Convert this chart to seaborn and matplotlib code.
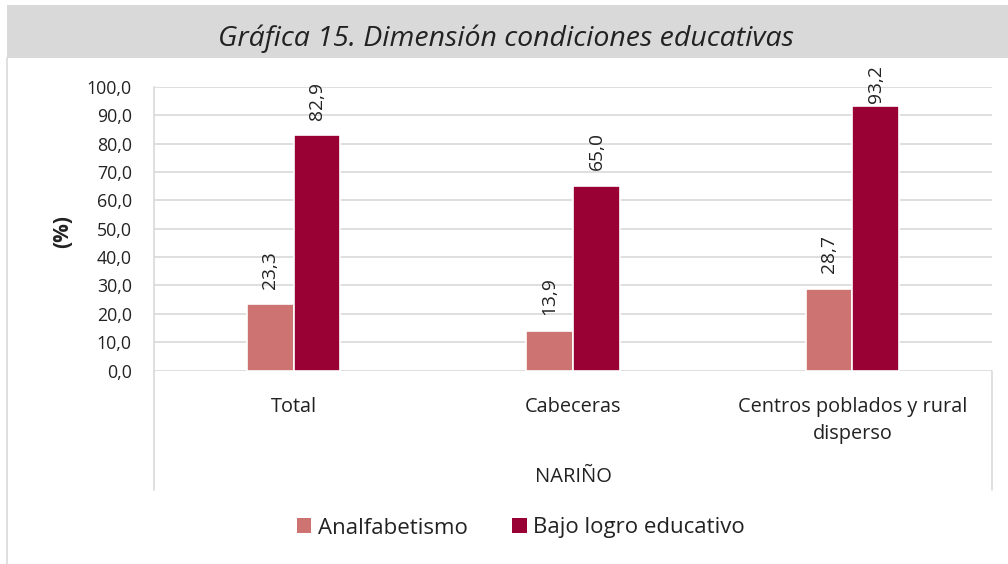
import matplotlib
matplotlib.use("Agg")
import matplotlib.pyplot as plt
import seaborn as sns
import pandas as pd
from matplotlib.patches import Rectangle
from matplotlib.lines import Line2D

# Data
categories = ["Total", "Cabeceras", "Centros poblados y rural\ndisperso"]
series_names = ["Analfabetismo", "Bajo logro educativo"]
analfabetismo = [23.3, 13.9, 28.7]
bajo_logro = [82.9, 65.0, 93.2]
y_ticks = [0, 10, 20, 30, 40, 50, 60, 70, 80, 90, 100]
title = "Gráfica 15. Dimensión condiciones educativas"
group_label = "NARIÑO"
y_label = "(%)"

colors = ["#CD7371", "#990033"]
grid_color = "#D9D9D9"
text_color = "#222222"

df = pd.DataFrame({
    "categoria": categories * 2,
    "serie": [series_names[0]] * 3 + [series_names[1]] * 3,
    "valor": analfabetismo + bajo_logro,
})

sns.set_theme(style="white")
plt.rcParams["font.family"] = ["Open Sans", "DejaVu Sans"]

fig = plt.figure(figsize=(10.08, 5.64), dpi=100)

# Title band
fig.patches.append(Rectangle((7 / 1008, 1 - 58 / 564), 1 - 7 / 1008, 53 / 564,
                             transform=fig.transFigure, facecolor=grid_color,
                             edgecolor="none", zorder=0))
fig.lines.append(Line2D([7 / 1008, 7 / 1008], [0, 1 - 58 / 564],
                        transform=fig.transFigure, color=grid_color, lw=1.2))
fig.text(506 / 1008, 1 - 39 / 564, title, ha="center", va="center",
         fontsize=20.5, style="italic", color=text_color)

ax = fig.add_axes([154 / 1008, (564 - 370.5) / 564, (992 - 154) / 1008, 283.5 / 564])

sns.barplot(data=df, x="categoria", y="valor", hue="serie", order=categories,
            hue_order=series_names, palette=colors, width=0.335, dodge=True,
            edgecolor="white", linewidth=1.2, saturation=1, ax=ax, legend=False)

ax.set_ylim(0, 100)
ax.set_xlim(-0.5, 2.5)
ax.set_yticks(y_ticks)
ax.set_yticklabels([f"{t:.1f}".replace(".", ",") for t in y_ticks], fontsize=12.8, color=text_color)
ax.tick_params(axis="y", length=0, pad=16)
ax.tick_params(axis="x", length=0, pad=19, labelsize=14.3, colors=text_color)
for lbl in ax.get_xticklabels():
    lbl.set_linespacing(1.5)
ax.grid(axis="y", color=grid_color, lw=1.2)
ax.set_axisbelow(True)
for s in ["top", "right", "bottom"]:
    ax.spines[s].set_visible(False)
ax.spines["left"].set_color(grid_color)
ax.spines["left"].set_linewidth(1.2)
ax.set_xlabel("")
ax.set_ylabel(y_label, fontsize=15, fontweight="bold", color=text_color)
ax.yaxis.set_label_coords(-81 / 838, 0.49)

# Value labels above the bars, kept inside the plotting area
label_gap = 5.6
label_max_bottom = 94.4
for cont in ax.containers:
    for bar in cont:
        v = bar.get_height()
        ax.text(bar.get_x() + bar.get_width() / 2, min(v + label_gap, label_max_bottom),
                f"{v:.1f}".replace(".", ","), rotation=90, ha="center", va="bottom",
                fontsize=13.8, color=text_color, clip_on=False)

# Multi-level category box
box_bottom = -(490 - 370.5) / 283.5
ax.plot([-0.5, -0.5], [0, box_bottom], transform=ax.get_xaxis_transform(),
        color=grid_color, lw=1.2, clip_on=False)
ax.plot([2.5, 2.5], [0, box_bottom], transform=ax.get_xaxis_transform(),
        color=grid_color, lw=1.2, clip_on=False)
ax.text(1, -(477 - 370.5) / 283.5, group_label, transform=ax.get_xaxis_transform(),
        ha="center", va="center", fontsize=14.5, color=text_color)

handles = [Rectangle((0, 0), 1, 1, facecolor=c, edgecolor="none") for c in colors]
fig.legend(handles, series_names, loc="center", bbox_to_anchor=(521 / 1008, 1 - 528 / 564),
           ncol=2, frameon=False, fontsize=16, handlelength=0.65, handleheight=0.65,
           handletextpad=0.3, columnspacing=2.0, labelcolor=text_color)

fig.savefig("out.png", dpi=100)
